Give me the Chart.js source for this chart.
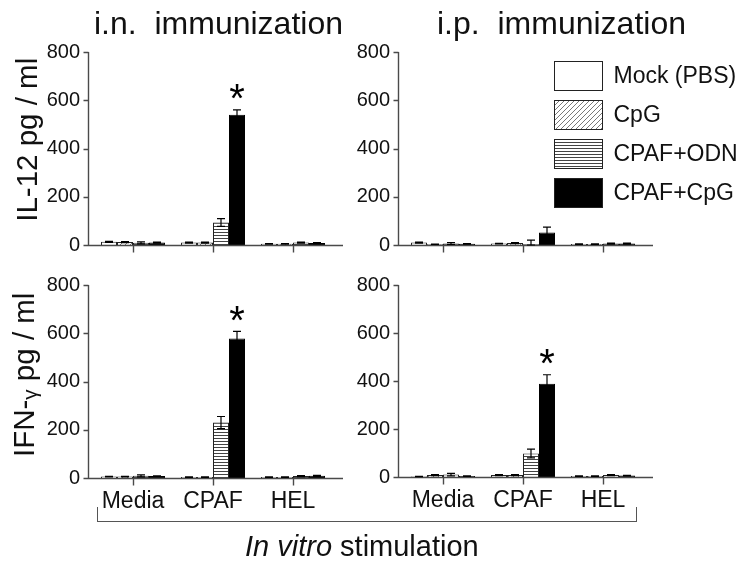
<!DOCTYPE html>
<html>
<head>
<meta charset="utf-8">
<script src="https://cdn.jsdelivr.net/npm/chart.js@4.4.1/dist/chart.umd.min.js"></script>
<style>
  body { margin: 0; background: #fff; }
  #wrap { position: relative; width: 750px; height: 563px; overflow: hidden; background: #fff;
          font-family: "Liberation Sans", Arial, sans-serif; color: #111; }
  canvas { position: absolute; }
  .title { position: absolute; font-size: 32px; line-height: 32px; white-space: pre; }
  .ytitle { position: absolute; width: 300px; text-align: center; white-space: pre;
            transform: rotate(-90deg); }
  .bracket { position: absolute; border: 1.5px solid #555; border-top: none; }
</style>
</head>
<body>
<div id="wrap">
  <canvas id="inIl12" width="350" height="270" style="left:0px;top:0px"></canvas>
  <canvas id="ipIl12" width="420" height="270" style="left:330px;top:0px"></canvas>
  <canvas id="inIfn" width="350" height="300" style="left:0px;top:260px"></canvas>
  <canvas id="ipIfn" width="420" height="300" style="left:330px;top:260px"></canvas>

  <div class="title" style="left:94px;top:7px">i.n.  immunization</div>
  <div class="title" style="left:437px;top:7px">i.p.  immunization</div>

  <div class="ytitle" style="font-size:29.5px;line-height:29.5px;left:-123px;top:125px">IL-12 pg / ml</div>
  <div class="ytitle" style="font-size:29.5px;line-height:29.5px;left:-123px;top:357px">IFN-<span style="font-size:0.7em;vertical-align:-0.15em">γ</span> pg / ml</div>

  <div class="bracket" style="left:97px;top:507px;width:538px;height:14px"></div>
  <div style="position:absolute;left:245px;top:532px;font-size:29px;line-height:29px;white-space:pre"><i>In vitro</i> stimulation</div>
</div>

<script>
const categories = ['Media', 'CPAF', 'HEL'];
const seriesNames = ['Mock (PBS)', 'CpG', 'CPAF+ODN', 'CPAF+CpG'];
const yTicks = [0, 200, 400, 600, 800];

// rows follow seriesNames, columns follow categories
const inIl12Values = [[13, 10, 5], [12, 10, 5], [9, 93, 10], [10, 540, 8]];
const inIl12Errors = [[2, 2, 1], [2, 2, 1], [4, 16, 2], [2, 20, 2]];

const ipIl12Values = [[10, 6, 4], [3, 8, 4], [6, 3, 6], [5, 52, 6]];
const ipIl12Errors = [[2, 1, 1], [1, 2, 1], [4, 17, 2], [1, 22, 2]];

const inIfnValues = [[6, 4, 4], [6, 4, 4], [9, 230, 8], [8, 578, 9]];
const inIfnErrors = [[1, 1, 1], [1, 1, 1], [4, 25, 2], [1, 30, 2]];

const ipIfnValues = [[2, 8, 4], [8, 8, 4], [10, 98, 8], [4, 389, 6]];
const ipIfnErrors = [[1, 2, 1], [2, 2, 1], [5, 18, 2], [1, 37, 1]];

// [series, category] marked with *
const inIl12Star = [3, 1];
const inIfnStar = [3, 1];
const ipIfnStar = [3, 1];

Chart.defaults.font.family = '"Liberation Sans", Arial, sans-serif';
Chart.defaults.color = '#111';

/* ====== fill patterns ===== */
function diagPattern() {
    const c = document.createElement('canvas');
    c.width = 5; c.height = 5;
    const g = c.getContext('2d');
    g.fillStyle = '#fff'; g.fillRect(0, 0, 5, 5);
    g.strokeStyle = '#555'; g.lineWidth = 0.8;
    g.beginPath();
    g.moveTo(-1, 6); g.lineTo(6, -1);
    g.moveTo(-1, 1); g.lineTo(1, -1);
    g.moveTo(4, 6); g.lineTo(6, 4);
    g.stroke();
    return g.createPattern(c, 'repeat');
}
function hPattern() {
    const c = document.createElement('canvas');
    c.width = 4; c.height = 3;
    const g = c.getContext('2d');
    g.fillStyle = '#fff'; g.fillRect(0, 0, 4, 3);
    g.fillStyle = '#444'; g.fillRect(0, 1, 4, 1);
    return g.createPattern(c, 'repeat');
}
const fills = ['#ffffff', diagPattern(), hPattern(), '#000000'];

/* ====== plugins ===== */
const axisLines = {
    id: 'axisLines',
    afterDatasetsDraw(chart) {
        const {ctx, chartArea: a, scales: {x, y}} = chart;
        const ax = Math.round(a.left - 5) + 0.5;
        const by = Math.round(a.bottom) + 0.5;
        ctx.save();
        ctx.strokeStyle = '#4a4a4a';
        ctx.lineWidth = 1.4;
        ctx.beginPath();
        ctx.moveTo(ax, y.getPixelForValue(800));
        ctx.lineTo(ax, by);
        y.ticks.forEach(t => {
            const py = Math.round(y.getPixelForValue(t.value)) + 0.5;
            ctx.moveTo(ax - 5, py); ctx.lineTo(ax, py);
        });
        ctx.moveTo(ax - 5, by); ctx.lineTo(a.right + 10, by);
        x.ticks.forEach((t, i) => {
            const px = Math.round(x.getPixelForTick(i)) + 0.5;
            ctx.moveTo(px, by); ctx.lineTo(px, by + 7);
        });
        ctx.stroke();
        ctx.restore();
    }
};

const errorBars = {
    id: 'errorBars',
    afterDatasetsDraw(chart) {
        const {ctx, scales: {y}} = chart;
        ctx.save();
        ctx.strokeStyle = '#000';
        ctx.lineWidth = 1.2;
        chart.data.datasets.forEach((ds, i) => {
            chart.getDatasetMeta(i).data.forEach((bar, j) => {
                const v = ds.data[j], e = ds.errors[j];
                const top = y.getPixelForValue(v + e);
                const bot = y.getPixelForValue(Math.max(v - e, 0));
                ctx.beginPath();
                ctx.moveTo(bar.x, top); ctx.lineTo(bar.x, bot);
                ctx.moveTo(bar.x - 4, top); ctx.lineTo(bar.x + 4, top);
                ctx.moveTo(bar.x - 4, bot); ctx.lineTo(bar.x + 4, bot);
                ctx.stroke();
            });
        });
        const star = chart.options.plugins.errorBars.star;
        if (star) {
            const ds = chart.data.datasets[star[0]];
            const bar = chart.getDatasetMeta(star[0]).data[star[1]];
            const cap = y.getPixelForValue(ds.data[star[1]] + ds.errors[star[1]]);
            ctx.font = '40px "Liberation Sans", Arial, sans-serif';
            ctx.fillStyle = '#000';
            ctx.textAlign = 'center';
            ctx.textBaseline = 'alphabetic';
            const m = ctx.measureText('*');
            const cy = cap - 18;
            ctx.fillText('*', bar.x, cy + (m.actualBoundingBoxAscent - m.actualBoundingBoxDescent) / 2);
        }
        ctx.restore();
    }
};

const boxLegend = {
    id: 'boxLegend',
    afterDraw(chart) {
        if (!chart.options.plugins.boxLegend.show) return;
        const {ctx, chartArea: a} = chart;
        ctx.save();
        ctx.font = '23px "Liberation Sans", Arial, sans-serif';
        ctx.textBaseline = 'middle';
        ctx.textAlign = 'left';
        chart.data.datasets.forEach((ds, i) => {
            const bx = a.left + 151.5, by = a.top + 9.5 + i * 39;
            ctx.fillStyle = ds.backgroundColor;
            ctx.fillRect(bx, by, 48, 29);
            ctx.strokeStyle = '#222';
            ctx.lineWidth = 1;
            ctx.strokeRect(bx, by, 48, 29);
            ctx.fillStyle = '#111';
            ctx.fillText(ds.label, bx + 59, by + 15);
        });
        ctx.restore();
    }
};

/* ====== panels ===== */
function makePanel(id, values, errors, opt) {
    const datasets = seriesNames.map((name, i) => ({
        label: name,
        data: values[i],
        errors: errors[i],
        backgroundColor: fills[i],
        borderColor: i === 3 ? '#000' : '#222',
        borderWidth: 1,
        categoryPercentage: 0.8,
        barPercentage: 1.0,
    }));
    return new Chart(document.getElementById(id), {
        type: 'bar',
        data: {labels: categories, datasets: datasets},
        options: {
            responsive: false,
            animation: false,
            devicePixelRatio: 1,
            layout: {padding: {left: 0, top: opt.top, right: opt.right, bottom: 0}},
            plugins: {
                legend: {display: false},
                tooltip: {enabled: false},
                errorBars: {star: opt.star},
                boxLegend: {show: !!opt.legend},
            },
            scales: {
                x: {
                    grid: {display: false, drawTicks: false},
                    border: {display: false},
                    ticks: {display: !!opt.labels, padding: 10, color: '#111', font: {size: 23}},
                    afterFit: s => { s.height = opt.xh; },
                },
                y: {
                    min: 0, max: 800,
                    afterBuildTicks: s => { s.ticks = yTicks.map(v => ({value: v})); },
                    grid: {display: false, drawTicks: false},
                    border: {display: false},
                    ticks: {padding: 13, color: '#111', font: {size: 20}},
                    afterFit: s => { s.width = opt.yw; },
                }
            }
        },
        plugins: [axisLines, errorBars, boxLegend]
    });
}

makePanel('inIl12', inIl12Values, inIl12Errors, {top: 52, right: 17, xh: 24, yw: 93, star: inIl12Star});
makePanel('ipIl12', ipIl12Values, ipIl12Errors, {top: 52, right: 107, xh: 24, yw: 73, legend: true});
makePanel('inIfn', inIfnValues, inIfnErrors, {top: 24, right: 17, xh: 82, yw: 93, star: inIfnStar, labels: true});
makePanel('ipIfn', ipIfnValues, ipIfnErrors, {top: 23, right: 107, xh: 83, yw: 73, star: ipIfnStar, labels: true});
</script>
</body>
</html>
